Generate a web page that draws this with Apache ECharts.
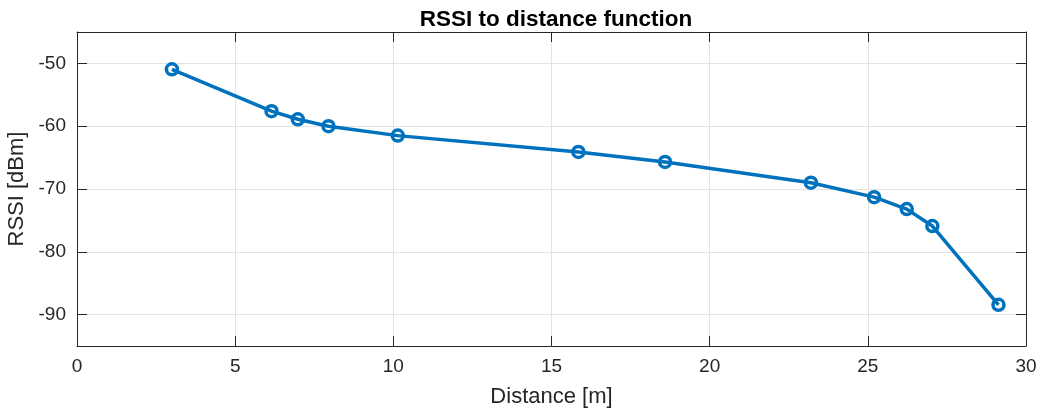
<!DOCTYPE html>
<html>
<head>
<meta charset="utf-8">
<script src="https://cdn.jsdelivr.net/npm/echarts@6/dist/echarts.min.js"></script>
<style>
  html, body { margin: 0; padding: 0; background: #fff; }
  #chart { width: 1041px; height: 409px; }
</style>
</head>
<body>
<div id="chart"></div>
<script>
// Measured RSSI at each distance
const distance = [3.0, 6.15, 6.98, 7.95, 10.14, 15.85, 18.59, 23.2, 25.2, 26.23, 27.04, 29.13];
const rssi = [-50.95, -57.6, -58.9, -60.0, -61.5, -64.1, -65.7, -69.0, -71.3, -73.2, -75.9, -88.45];
const xTicks = [0, 5, 10, 15, 20, 25, 30];
const yTicks = [-90, -80, -70, -60, -50];

const font = 'Liberation Sans, Arial, Helvetica, sans-serif';
const axisColor = '#262626';
const gridColor = '#e3e3e3';

const chart = echarts.init(document.getElementById('chart'), null, { renderer: 'canvas' });

// Unlabelled axes that close the box on the top and right, ticks pointing inward
const frameAxis = {
  axisLine: { show: true, onZero: false, lineStyle: { color: axisColor, width: 1 } },
  axisLabel: { show: false },
  splitLine: { show: false }
};

chart.setOption({
  animation: false,
  title: {
    text: 'RSSI to distance function',
    left: 551, top: 3, textAlign: 'center',
    textStyle: { fontFamily: font, fontSize: 22.5, fontWeight: 'bold', color: '#000' }
  },
  grid: { left: 77, right: 15, top: 32, bottom: 63, containLabel: false, outerBoundsMode: 'none' },
  xAxis: [
    {
      type: 'value', min: xTicks[0], max: xTicks[xTicks.length - 1], interval: 5,
      position: 'bottom',
      name: 'Distance [m]', nameLocation: 'middle', nameGap: 40,
      nameTextStyle: { fontFamily: font, fontSize: 22, color: axisColor },
      axisLine: { show: true, onZero: false, lineStyle: { color: axisColor, width: 1 } },
      axisTick: { show: true, inside: true, length: 10, lineStyle: { color: axisColor } },
      axisLabel: { fontFamily: font, fontSize: 19, color: axisColor, margin: 11 },
      splitLine: { show: true, lineStyle: { color: gridColor, width: 1 } }
    },
    Object.assign({ type: 'value', min: xTicks[0], max: xTicks[xTicks.length - 1], interval: 5,
      position: 'top',
      axisTick: { show: true, inside: true, length: 10, lineStyle: { color: axisColor } } }, frameAxis)
  ],
  yAxis: [
    {
      type: 'value', min: -95, max: -45, position: 'left',
      name: 'RSSI [dBm]', nameLocation: 'middle', nameGap: 48, nameRotate: 90,
      nameTextStyle: { fontFamily: font, fontSize: 22, color: axisColor },
      axisLine: { show: true, onZero: false, lineStyle: { color: axisColor, width: 1 } },
      axisTick: { show: true, inside: true, length: 10, lineStyle: { color: axisColor },
        customValues: yTicks },
      axisLabel: { fontFamily: font, fontSize: 19, color: axisColor, margin: 11,
        customValues: yTicks },
      splitLine: { show: true, lineStyle: { color: gridColor, width: 1 } }
    },
    Object.assign({ type: 'value', min: -95, max: -45, position: 'right',
      axisTick: { show: true, inside: true, length: 10, lineStyle: { color: axisColor },
        customValues: yTicks } }, frameAxis)
  ],
  series: [{
    type: 'line',
    xAxisIndex: 0, yAxisIndex: 0,
    data: distance.map((d, i) => [d, rssi[i]]),
    lineStyle: { color: '#0072BD', width: 3.5 },
    symbol: 'circle', symbolSize: 11,
    itemStyle: { color: 'rgba(255,255,255,0)', borderColor: '#0072BD', borderWidth: 3.5 },
    emphasis: { disabled: true }
  }]
});
</script>
</body>
</html>
